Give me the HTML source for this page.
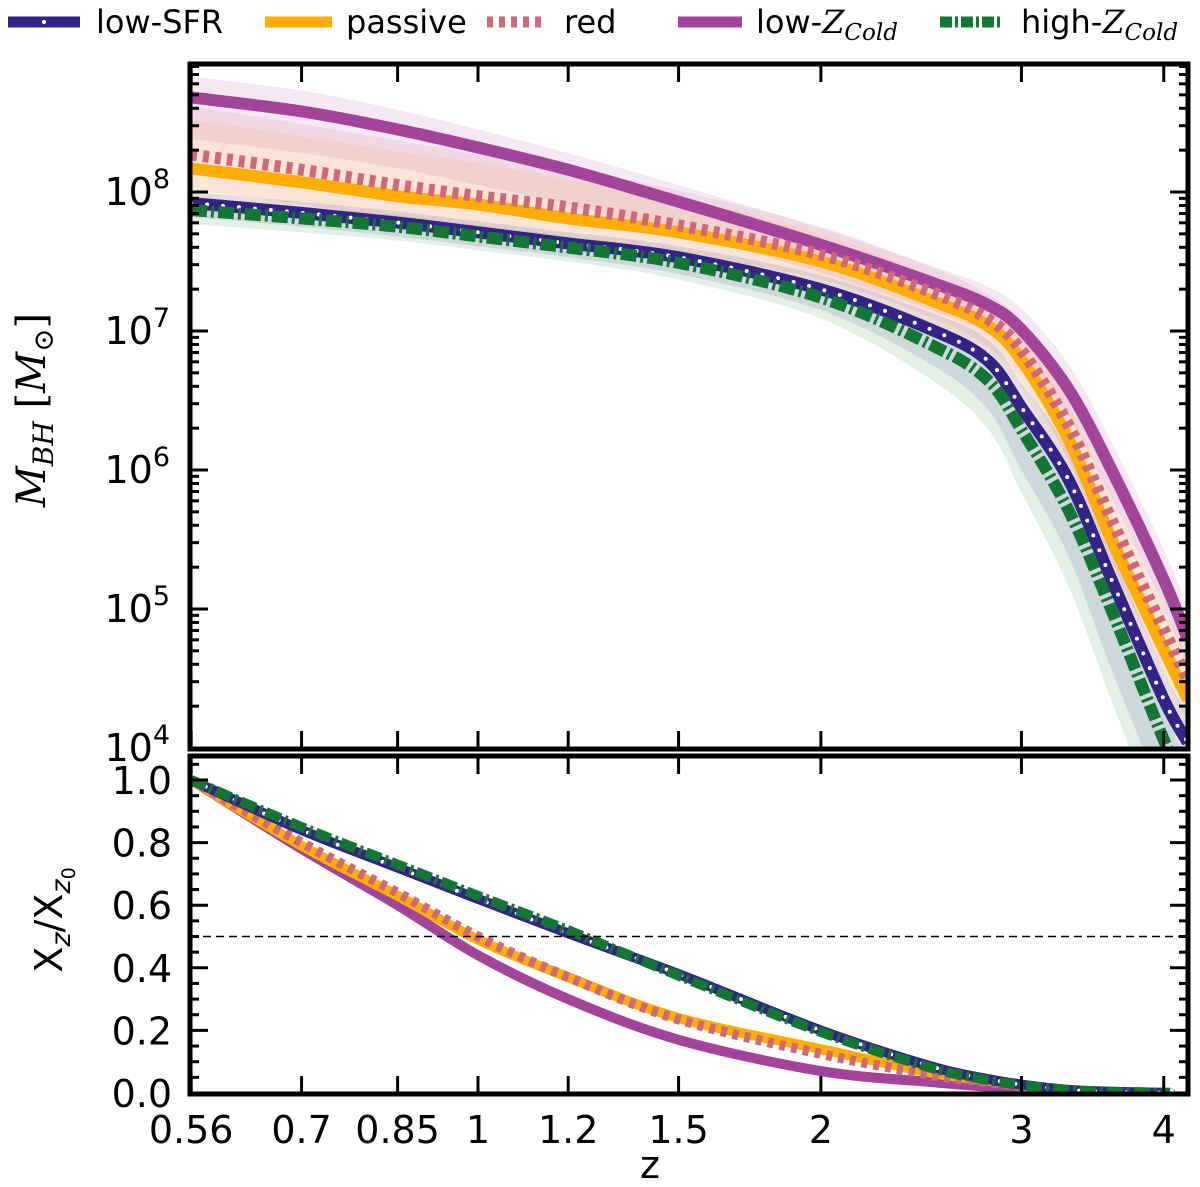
<!DOCTYPE html>
<html><head><meta charset="utf-8"><style>
html,body{margin:0;padding:0;background:#fff;}
svg{display:block;font-family:"DejaVu Sans","Liberation Sans",sans-serif;}
</style></head><body>
<svg id="chart" width="1200" height="1187" viewBox="0 0 1200 1187"></svg>
<script>
const redshifts=[0.56,0.7,0.85,1,1.2,1.5,2,2.5,2.8,3,3.3,3.6,4,4.2];
const logM_lowZ=[8.68,8.58,8.45,8.32,8.16,7.93,7.62,7.35,7.19,7.01,6.58,6.0,5.21,4.78];
const logM_passive=[8.17,8.07,7.97,7.91,7.81,7.71,7.50,7.22,7.04,6.79,6.22,5.50,4.71,4.35];
const logM_red=[8.27,8.16,8.05,7.97,7.89,7.76,7.55,7.28,7.09,6.86,6.32,5.64,4.85,4.49];
const logM_lowSFR=[7.92,7.85,7.78,7.71,7.63,7.53,7.30,7.01,6.79,6.45,5.93,5.21,4.35,4.04];
const logM_highZ=[7.87,7.81,7.75,7.68,7.60,7.49,7.24,6.90,6.65,6.29,5.71,4.99,4.06,3.7];
const frac_lowZ=[1,0.78,0.60,0.44,0.30,0.17,0.07,0.035,0.02,0.012,0.005,0.002,0,0];
const frac_passive=[1,0.79,0.63,0.49,0.37,0.24,0.14,0.065,0.04,0.025,0.01,0.004,0.001,0];
const frac_red=[1,0.80,0.64,0.50,0.37,0.235,0.125,0.058,0.035,0.022,0.009,0.003,0.001,0];
const frac_lowSFR=[1,0.84,0.72,0.62,0.51,0.38,0.20,0.085,0.045,0.027,0.01,0.004,0.001,0];
const frac_highZ=[1,0.85,0.73,0.63,0.52,0.375,0.195,0.08,0.042,0.025,0.01,0.004,0.001,0];
const bandUp_lowZ=[0.15,0.15,0.14,0.13,0.12,0.12,0.12,0.12,0.13,0.15,0.18,0.2,0.22,0.22];
const bandDn_lowZ=[0.3,0.3,0.28,0.27,0.25,0.22,0.2,0.2,0.2,0.2,0.2,0.2,0.2,0.2];
const bandUp_passive=[0.35,0.33,0.32,0.3,0.28,0.25,0.2,0.18,0.18,0.2,0.25,0.3,0.3,0.3];
const bandDn_passive=[0.25,0.25,0.25,0.24,0.22,0.2,0.18,0.18,0.2,0.22,0.25,0.3,0.3,0.3];
const bandUp_highZ=[0.08,0.08,0.08,0.08,0.08,0.08,0.1,0.12,0.15,0.18,0.2,0.2,0.2,0.2];
const bandDn_highZ=[0.1,0.1,0.1,0.1,0.1,0.12,0.15,0.25,0.35,0.45,0.55,0.65,0.7,0.7];
const xTickVals=[0.56,0.7,0.85,1,1.2,1.5,2,3,4];
const xTickLabels=["0.56","0.7","0.85","1","1.2","1.5","2","3","4"];
const yTopTicks=[4,5,6,7,8];
const yBotTicks=[0,0.2,0.4,0.6,0.8,1.0];
const yBotLabels=["0.0","0.2","0.4","0.6","0.8","1.0"];

const L=190,R=1188,T1=64,B1=749,T2=756,B2=1094;
const X=z=>478+1139*Math.log10(z);
const Y1=lm=>748-139*(lm-4);
const Y2=v=>1093-313*v;
const NS='http://www.w3.org/2000/svg';
const svg=document.getElementById('chart');
function mk(tag,attrs,parent){const e=document.createElementNS(NS,tag);for(const k in attrs)e.setAttribute(k,attrs[k]);(parent||svg).appendChild(e);return e;}
function smooth(pts){let d='M'+pts[0][0]+','+pts[0][1];for(let i=0;i<pts.length-1;i++){const p0=pts[Math.max(0,i-1)],p1=pts[i],p2=pts[i+1],p3=pts[Math.min(pts.length-1,i+2)];
const c1=[p1[0]+(p2[0]-p0[0])/6,p1[1]+(p2[1]-p0[1])/6],c2=[p2[0]-(p3[0]-p1[0])/6,p2[1]-(p3[1]-p1[1])/6];d+=' C'+c1+' '+c2+' '+p2;}return d;}
const defs=mk('defs',{});
const c1=mk('clipPath',{id:'c1'},defs);mk('rect',{x:L,y:T1,width:R-L,height:B1-T1},c1);
const c2=mk('clipPath',{id:'c2'},defs);mk('rect',{x:L,y:T2,width:R-L,height:B2-T2},c2);
const gTop=mk('g',{'clip-path':'url(#c1)'});

const gBot=mk('g',{'clip-path':'url(#c2)'});


function band(vals,up,dn,color,name){
  const top=redshifts.map((z,i)=>[X(z),Y1(vals[i]+up[i])]);
  const bot=redshifts.map((z,i)=>[X(z),Y1(vals[i]-dn[i])]).reverse();
  const d=smooth(top)+' L'+bot[0]+' '+smooth(bot).slice(1)+' Z';
  const p=mk('path',{d:d,fill:color,'fill-opacity':0.12,stroke:'none'},gTop);
  
}
band(logM_lowZ,bandUp_lowZ,bandDn_lowZ,'#a4449a','low-zcold-band');
band(logM_passive,bandUp_passive,bandDn_passive,'#ffaa22','passive-band');
band(logM_red,bandUp_passive,bandDn_passive,'#d0687a','red-band');
band(logM_lowSFR,bandUp_highZ,bandDn_highZ,'#3a2d8a','low-sfr-band');
band(logM_highZ,bandUp_highZ,bandDn_highZ,'#1a7a3a','high-zcold-band');

const styles={
 lowSFR:{c:'#332288',dash:null},
 passive:{c:'#ffad00',dash:null},
 red:{c:'#d0687a',dash:'6 6'},
 lowZ:{c:'#a4439a',dash:null},
 highZ:{c:'#117733',dash:'16 4 3 4'}
};
function line(g,pts,st,w,name){
  const d=smooth(pts);
  const p=mk('path',{d:d,fill:'none',stroke:st.c,'stroke-width':w},g);
  if(st.dash)p.setAttribute('stroke-dasharray',st.dash);
  
  if(st===styles.lowSFR){const q=mk('path',{d:d,fill:'none',stroke:'#fff','stroke-width':4,'stroke-linecap':'round','stroke-dasharray':'0 16'},g);
  }
}
const topSeries=[[logM_lowZ,'lowZ','low-zcold-line'],[logM_passive,'passive','passive-line'],[logM_red,'red','red-line'],[logM_lowSFR,'lowSFR','low-sfr-line'],[logM_highZ,'highZ','high-zcold-line']];
topSeries.forEach(s=>line(gTop,redshifts.map((z,i)=>[X(z),Y1(s[0][i])]),styles[s[1]],12,s[2]));
const botSeries=[[frac_lowZ,'lowZ','low-zcold-frac'],[frac_passive,'passive','passive-frac'],[frac_red,'red','red-frac'],[frac_lowSFR,'lowSFR','low-sfr-frac'],[frac_highZ,'highZ','high-zcold-frac']];
botSeries.forEach(s=>line(gBot,redshifts.map((z,i)=>[X(Math.min(z,4.05)),Y2(s[0][i])]),styles[s[1]],10,s[2]));
const hl=mk('line',{x1:L,x2:R,y1:Y2(0.5),y2:Y2(0.5),stroke:'#000','stroke-width':1.5,'stroke-dasharray':'8 5'});


// spines
[[T1,B1,'top-panel-frame'],[T2,B2,'bottom-panel-frame']].forEach(a=>{const r=mk('rect',{x:L,y:a[0],width:R-L,height:a[1]-a[0],fill:'none',stroke:'#000','stroke-width':5});
});
// x ticks
xTickVals.forEach((v,i)=>{const x=X(v);
 [[T1,1],[B1,-1],[T2,1],[B2,-1]].forEach(p=>mk('line',{x1:x,x2:x,y1:p[0],y2:p[0]+p[1]*18,stroke:'#000','stroke-width':3}));
 const t=mk('text',{x:x,y:1143,'text-anchor':'middle','font-size':38});t.textContent=xTickLabels[i];
 });
// top y ticks
for(let d=4;d<9;d++){for(let m=1;m<10;m++){const lm=d+Math.log10(m);const y=Y1(lm);if(y<T1)continue;const len=m===1?18:9;
 mk('line',{x1:L,x2:L+len,y1:y,y2:y,stroke:'#000','stroke-width':3});mk('line',{x1:R,x2:R-len,y1:y,y2:y,stroke:'#000','stroke-width':3});}}
yTopTicks.forEach(d=>{const t=mk('text',{x:170,y:Y1(d)+13,'text-anchor':'end','font-size':38});
 t.innerHTML='10<tspan dy="-17" font-size="27">'+d+'</tspan>';});
// bottom y ticks
for(let v=0;v<=1.0801;v+=0.05){const y=Y2(v);const maj=Math.abs(v*5-Math.round(v*5))<1e-6;const len=maj?18:9;
 mk('line',{x1:L,x2:L+len,y1:y,y2:y,stroke:'#000','stroke-width':3});mk('line',{x1:R,x2:R-len,y1:y,y2:y,stroke:'#000','stroke-width':3});}
yBotTicks.forEach((v,i)=>{const t=mk('text',{x:172,y:Y2(v)+14,'text-anchor':'end','font-size':38});t.textContent=yBotLabels[i];
 });
</script>
<svg style="position:absolute;left:0;top:0" width="1200" height="1187">
<text x="650" y="1178" text-anchor="middle" font-size="38" font-family="DejaVu Sans,sans-serif">z</text>
<text transform="translate(45,410) rotate(-90)" text-anchor="middle" font-size="40" font-family="DejaVu Serif,Liberation Serif,serif" font-style="italic">M<tspan font-size="28" dy="8">BH</tspan><tspan dy="-8" font-style="normal"> [</tspan>M<tspan font-size="28" dy="8">⊙</tspan><tspan dy="-8" font-style="normal">]</tspan></text>
<text transform="translate(62,920) rotate(-90)" text-anchor="middle" font-size="38" font-family="DejaVu Sans,sans-serif">X<tspan font-style="italic" font-size="27" dy="8">z</tspan><tspan dy="-8">/X</tspan><tspan font-style="italic" font-size="27" dy="8">z</tspan><tspan font-size="19" dy="5">0</tspan></text>
<g font-family="DejaVu Sans,sans-serif" font-size="32">
<g><line x1="8" x2="80" y1="22" y2="22" stroke="#332288" stroke-width="11"/><circle cx="44" cy="22" r="2" fill="#fff"/><text x="96" y="33">low-SFR</text></g>
<g><line x1="265" x2="332" y1="22" y2="22" stroke="#ffad00" stroke-width="11"/><text x="346" y="33">passive</text></g>
<g><line x1="487" x2="547" y1="22" y2="22" stroke="#d0687a" stroke-width="11" stroke-dasharray="6 6"/><text x="564" y="33">red</text></g>
<g><line x1="678" x2="742" y1="22" y2="22" stroke="#a4439a" stroke-width="11"/><text x="756" y="33">low-<tspan font-family="DejaVu Serif,serif" font-style="italic">Z</tspan><tspan font-family="DejaVu Serif,serif" font-style="italic" font-size="23" dy="7">Cold</tspan></text></g>
<g><line x1="940" x2="1002" y1="22" y2="22" stroke="#117733" stroke-width="11" stroke-dasharray="12 3 3 3"/><text x="1021" y="33">high-<tspan font-family="DejaVu Serif,serif" font-style="italic">Z</tspan><tspan font-family="DejaVu Serif,serif" font-style="italic" font-size="23" dy="7">Cold</tspan></text></g>
</g>
</svg>
</body></html>
